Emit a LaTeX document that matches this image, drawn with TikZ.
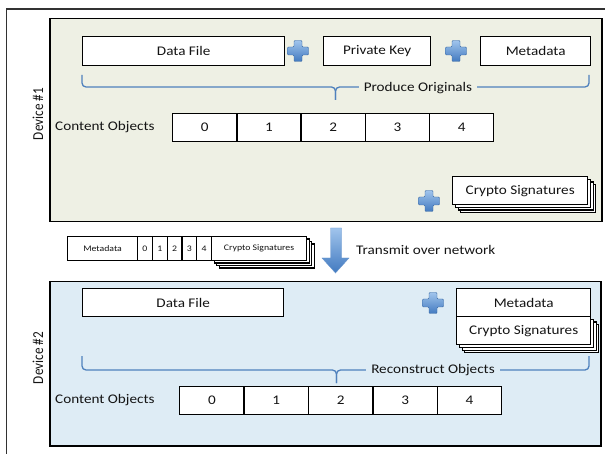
\documentclass[tikz,border=0pt]{standalone}
\usepackage{fontspec}
\setmainfont{Carlito}
\usepackage{graphicx}
\definecolor{greenbg}{RGB}{238,240,228}
\definecolor{bluebg}{RGB}{222,236,245}
\definecolor{bracec}{RGB}{79,129,189}
\definecolor{plustop}{RGB}{160,196,236}
\definecolor{plusbot}{RGB}{66,122,192}
\definecolor{txt}{RGB}{20,20,20}
\definecolor{framec}{RGB}{50,50,50}
\newcommand\hs[1]{\scalebox{1.15}[1]{#1}}
\tikzset{
  box/.style={draw=black, line width=1.4pt, fill=white, inner sep=0pt, anchor=north west,
    text=txt, font=\fontsize{13.2}{15}\selectfont},
  smallbox/.style={box, line width=1.1pt, font=\fontsize{8.5}{10}\selectfont},
  panel/.style={draw=black, line width=1.5pt},
  bracepath/.style={draw=bracec, line width=1.3pt, rounded corners=4pt},
  lbl/.style={text=txt, font=\fontsize{13.2}{15}\selectfont, inner sep=0pt},
  plusicon/.pic={\shade[top color=plustop, bottom color=plusbot, draw=plusbot!85!black,
    line width=0.4pt, rounded corners=1pt]
    (-4,-10.5) -- (4,-10.5) -- (4,-4) -- (10.5,-4) -- (10.5,4) -- (4,4)
    -- (4,10.5) -- (-4,10.5) -- (-4,4) -- (-10.5,4) -- (-10.5,-4) -- (-4,-4) -- cycle;}
}
\begin{document}
\begin{tikzpicture}[x=1pt, y=-1pt]
\useasboundingbox (0,0) rectangle (605,454);
% outer frame
\draw[framec, line width=1.5pt] (6.5,460) -- (6.5,9) -- (610,9);
% panels
\node[panel, fill=greenbg, anchor=north west, minimum width=552pt, minimum height=203pt, inner sep=0pt] (dev1) at (49,18) {};
\node[panel, fill=bluebg, anchor=north west, minimum width=551pt, minimum height=164pt, inner sep=0pt] (dev2) at (49,281) {};
\node[lbl, rotate=90] (dev1lbl) at (38,114) {\scalebox{1}[1.15]{Device \#1}};
\node[lbl, rotate=90] (dev2lbl) at (38,358) {\scalebox{1}[1.15]{Device \#2}};

% ---------- Device 1 ----------
\node[box, minimum width=202pt, minimum height=29pt] (df1) at (82,36) {\hs{Data File}};
\node[box, minimum width=107pt, minimum height=29pt] (pk1) at (323,36) {\hs{Private Key}};
\node[box, minimum width=110pt, minimum height=29pt] (md1) at (480,36) {\hs{Metadata}};
\pic at (298,51) {plusicon};
\pic at (456,51) {plusicon};
% brace
\coordinate (b1l) at (82,75);
\coordinate (b1r) at (589,75);
\coordinate (b1t) at (335.5,100);
\draw[bracepath] (b1l) -- (b1l |- 0,87) -- (b1t |- 0,87) -- (b1t);
\draw[bracepath] (b1t) -- (b1t |- 0,87) -- (b1r |- 0,87) -- (b1r);
\node[lbl, fill=greenbg, inner xsep=5pt, inner ysep=2pt] (prod) at (418,88) {\hs{Produce Originals}};
% content objects
\node[lbl, anchor=west] (co1) at (55,127.5) {\hs{Content Objects}};
\foreach \i in {0,...,4}
  \node[box, minimum width=64.2pt, minimum height=28pt] (c1\i) at (172+64.2*\i,113) {\hs{\i}};
% crypto stack
\foreach \o in {8,5.5,3}
  \node[box, minimum width=135pt, minimum height=28pt] (cs1b\o) at (452+\o,176+\o) {};
\node[box, minimum width=135pt, minimum height=28pt] (cs1) at (452,176) {\hs{Crypto Signatures}};
\pic at (429,201) {plusicon};

% ---------- Transmission ----------
\node[smallbox, minimum width=70pt, minimum height=24pt] (pmd) at (67,236) {\hs{Metadata}};
\foreach \i in {0,...,4}
  \node[smallbox, minimum width=14.8pt, minimum height=24pt] (p\i) at (137+14.8*\i,236) {\hs{\i}};
\foreach \o in {7.5,5,2.5}
  \node[smallbox, minimum width=95pt, minimum height=24pt] (pcsb\o) at (211+\o,236+\o) {};
\node[smallbox, minimum width=95pt, minimum height=24pt] (pcs) at (211,236) {\hs{Crypto Signatures}};
% arrow
\shade[top color=plustop, bottom color=plusbot, draw=plusbot!80!white, line width=0.4pt]
  (330.5,228) -- (341.5,228) -- (341.5,258) -- (349,258) -- (335.5,273) -- (322,258) -- (330.5,258) -- cycle;
\node[lbl, anchor=west] (trans) at (356,250) {\hs{Transmit over network}};

% ---------- Device 2 ----------
\node[box, minimum width=201pt, minimum height=28pt] (df2) at (82,288) {\hs{Data File}};
\foreach \o in {8,5.5,3}
  \node[box, minimum width=134pt, minimum height=28pt] (cs2b\o) at (456+\o,316+\o) {};
\node[box, minimum width=134pt, minimum height=28pt] (cs2) at (456,316) {\hs{Crypto Signatures}};
\node[box, minimum width=134pt, minimum height=28pt] (md2) at (456,288) {\hs{Metadata}};
\pic at (433,303) {plusicon};
% brace
\coordinate (b2l) at (82,356);
\coordinate (b2r) at (589,356);
\coordinate (b2t) at (336.5,383);
\draw[bracepath] (b2l) -- (b2l |- 0,370) -- (b2t |- 0,370) -- (b2t);
\draw[bracepath] (b2t) -- (b2t |- 0,370) -- (b2r |- 0,370) -- (b2r);
\node[lbl, fill=bluebg, inner xsep=5pt, inner ysep=2pt] (recon) at (433,370) {\hs{Reconstruct Objects}};
% content objects
\node[lbl, anchor=west] (co2) at (55,400) {\hs{Content Objects}};
\foreach \i in {0,...,4}
  \node[box, minimum width=64.4pt, minimum height=28pt] (c2\i) at (179+64.4*\i,386) {\hs{\i}};
\end{tikzpicture}
\end{document}
